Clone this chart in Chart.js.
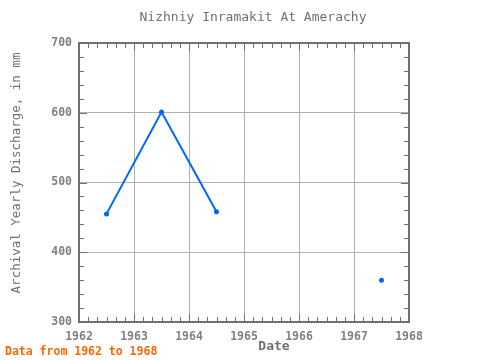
<!DOCTYPE html>
<html>
<head>
<meta charset="utf-8">
<script src="https://cdn.jsdelivr.net/npm/chart.js@4/dist/chart.umd.min.js"></script>
<style>
  html, body { margin: 0; padding: 0; background: #fff; }
  #wrap { width: 480px; height: 360px; }
</style>
</head>
<body>
<div id="wrap"><canvas id="chart_div" width="480" height="360"></canvas></div>
<script>
// values
const years = [1962.5, 1963.5, 1964.5, 1965.5, 1966.5, 1967.5];
const discharge = [455, 601, 458, null, null, 360];
const xTicks = [1962, 1963, 1964, 1965, 1966, 1967, 1968];
const yTicks = [300, 400, 500, 600, 700];

const titleText = 'Nizhniy Inramakit At Amerachy';
const yLabel = 'Archival Yearly Discharge, in mm';
const xLabel = 'Date';
const footText = 'Data from 1962 to 1968';

const mono = '"DejaVu Sans Mono", "Liberation Mono", monospace';

// frame, inward ticks and text
const framePlugin = {
  id: 'frame',
  afterDraw(chart) {
    const ctx = chart.ctx;
    const a = chart.chartArea;
    const xs = chart.scales.x, ys = chart.scales.y;
    ctx.save();
    ctx.strokeStyle = '#707070';
    ctx.lineWidth = 1;
    ctx.beginPath();
    // x minor / major ticks (bottom & top)
    for (let v = xTicks[0]; v <= xTicks[xTicks.length - 1] + 1e-9; v += 1 / 6) {
      const major = Math.abs(v - Math.round(v)) < 1e-6;
      const len = major ? 8 : 5;
      const px = Math.round(xs.getPixelForValue(v)) + 0.5;
      ctx.moveTo(px, a.bottom); ctx.lineTo(px, a.bottom - len);
      ctx.moveTo(px, a.top); ctx.lineTo(px, a.top + len);
    }
    // y minor / major ticks (left & right)
    for (let v = yTicks[0]; v <= yTicks[yTicks.length - 1]; v += 20) {
      const major = v % 100 === 0;
      const len = major ? 8 : 5;
      const py = Math.round(ys.getPixelForValue(v)) + 0.5;
      ctx.moveTo(a.left, py); ctx.lineTo(a.left + len, py);
      ctx.moveTo(a.right, py); ctx.lineTo(a.right - len, py);
    }
    ctx.stroke();
    ctx.lineWidth = 2;
    ctx.strokeRect(a.left, a.top, a.right - a.left, a.bottom - a.top);

    // texts
    ctx.fillStyle = '#707070';
    ctx.font = '13px ' + mono;
    ctx.textAlign = 'center';
    ctx.textBaseline = 'middle';
    ctx.fillText(titleText, 253, 18);

    ctx.font = 'bold 13px ' + mono;
    ctx.fillText(xLabel, 274, 347);

    ctx.save();
    ctx.translate(17, 173);
    ctx.rotate(-Math.PI / 2);
    ctx.font = '12.5px ' + mono;
    ctx.fillText(yLabel, 0, 0);
    ctx.restore();

    ctx.fillStyle = '#ff6600';
    ctx.font = 'bold 11.5px ' + mono;
    ctx.textAlign = 'left';
    ctx.fillText(footText, 5, 352);
    ctx.restore();
  }
};

new Chart(document.getElementById('chart_div').getContext('2d'), {
  type: 'line',
  data: {
    datasets: [{
      label: 'Discharge',
      data: years.map((x, i) => ({ x: x, y: discharge[i] })),
      borderColor: '#0066ff',
      backgroundColor: '#0066ff',
      borderWidth: 2,
      pointRadius: 1.5,
      pointHoverRadius: 1.5,
      spanGaps: false,
      fill: false,
      tension: 0
    }]
  },
  options: {
    responsive: false,
    animation: false,
    layout: { padding: { top: 43, right: 71, bottom: 0, left: 0 } },
    plugins: {
      legend: { display: false },
      title: { display: false },
      tooltip: { enabled: false }
    },
    scales: {
      x: {
        type: 'linear',
        min: xTicks[0],
        max: xTicks[xTicks.length - 1],
        afterFit(scale) { scale.height = 38; },
        afterBuildTicks(scale) { scale.ticks = xTicks.map(v => ({ value: v })); },
        grid: { color: '#b0b0b0', drawTicks: false, lineWidth: 1 },
        border: { display: false },
        ticks: {
          padding: 8,
          color: '#808080',
          font: { family: mono, size: 11.5, weight: 'bold' },
          maxRotation: 0,
          callback: v => String(v)
        }
      },
      y: {
        min: yTicks[0],
        max: yTicks[yTicks.length - 1],
        afterFit(scale) { scale.width = 79; },
        afterBuildTicks(scale) { scale.ticks = yTicks.map(v => ({ value: v })); },
        grid: { color: '#b0b0b0', drawTicks: false, lineWidth: 1 },
        border: { display: false },
        ticks: {
          padding: 7,
          color: '#808080',
          font: { family: mono, size: 11.5, weight: 'bold' },
          callback: v => String(v)
        }
      }
    }
  },
  plugins: [framePlugin]
});
</script>
</body>
</html>
